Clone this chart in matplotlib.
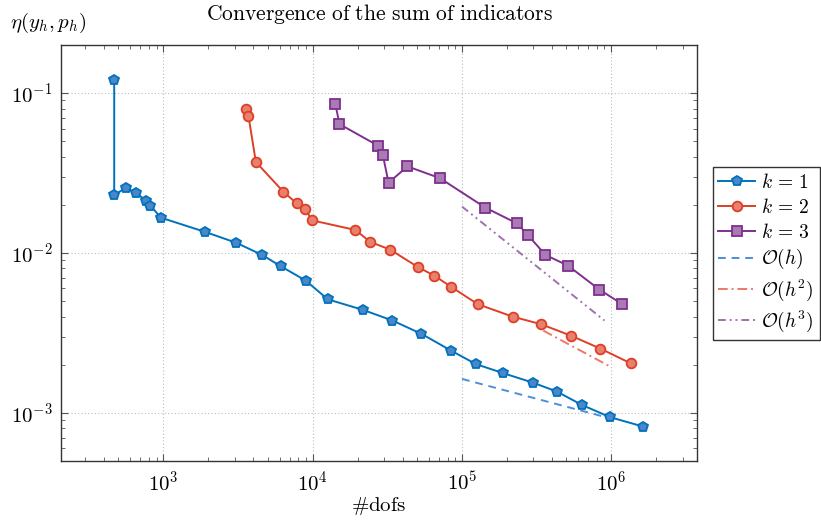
import matplotlib
matplotlib.use('Agg')
import matplotlib.pyplot as plt
from matplotlib.ticker import LogLocator, NullFormatter

plt.rcParams['mathtext.fontset'] = 'cm'
plt.rcParams['font.family'] = 'serif'
plt.rcParams['font.serif'] = ['cmr10', 'DejaVu Serif']
plt.rcParams['axes.formatter.use_mathtext'] = True

# k = 1
dofs_k1 = [468, 468, 560, 656, 770, 818, 961, 1910, 3070, 4580, 6140, 8990,
           12620, 21800, 34200, 53500, 84500, 123600, 189000, 298000, 431000,
           634000, 982000, 1640000]
eta_k1 = [0.121, 0.0230, 0.0256, 0.0238, 0.0211, 0.0198, 0.01663, 0.01353,
          0.01159, 0.00972, 0.00824, 0.00671, 0.00513, 0.00440, 0.00378,
          0.00312, 0.00245, 0.00202, 0.00177, 0.001546, 0.00136, 0.001122,
          0.000939, 0.00082]

# k = 2
dofs_k2 = [3560, 3710, 4160, 6370, 7830, 8900, 9910, 19300, 24300, 33000,
           51000, 65300, 84100, 127600, 218000, 340000, 541000, 846000, 1350000]
eta_k2 = [0.0794, 0.0721, 0.0371, 0.0241, 0.0204, 0.01883, 0.0160, 0.01393,
          0.01172, 0.0105, 0.00813, 0.00721, 0.00616, 0.00478, 0.0040,
          0.00358, 0.00303, 0.00252, 0.00204]

# k = 3
dofs_k3 = [14200, 15100, 27400, 29500, 32200, 43100, 71000, 143500, 234000,
           277000, 362000, 512000, 832000, 1186000]
eta_k3 = [0.0849, 0.0640, 0.0469, 0.0410, 0.0275, 0.0348, 0.0294, 0.0192,
          0.0153, 0.0129, 0.00972, 0.00834, 0.0059, 0.00478]

# reference slopes
ref1_x = [1e5, 1e6]
ref1_y = [1.63e-3, 9.2e-4]
ref2_x = [3.5e5, 9.8e5]
ref2_y = [3.27e-3, 1.95e-3]
ref3_x = [1e5, 9.0e5]
ref3_y = [1.95e-2, 3.78e-3]

blue, blue_f = '#0072BD', '#4A86C8'
red, red_f = '#DE3F26', '#E8806E'
purple, purple_f = '#7E2F8E', '#A87BB2'

fig = plt.figure(figsize=(8.21, 5.22), dpi=100)
ax = fig.add_axes([0.0743, 0.1169, 0.7747, 0.7969])

ax.plot(dofs_k1, eta_k1, '-', color=blue, lw=1.4, marker='p', ms=7.5,
        mfc=blue_f, mec=blue, mew=1.3, label=r'$k\,=\,1$')
ax.plot(dofs_k2, eta_k2, '-', color=red, lw=1.4, marker='o', ms=7,
        mfc=red_f, mec=red, mew=1.3, label=r'$k\,=\,2$')
ax.plot(dofs_k3, eta_k3, '-', color=purple, lw=1.4, marker='s', ms=6.5,
        mfc=purple_f, mec=purple, mew=1.3, label=r'$k\,=\,3$')
ax.plot(ref1_x, ref1_y, color='#4D8FD6', lw=1.4, ls=(0, (4, 3)),
        label=r'$\mathcal{O}(h)$')
ax.plot(ref2_x, ref2_y, color='#EE7766', lw=1.4, ls=(0, (5, 2, 1, 2)),
        label=r'$\mathcal{O}(h^2)$')
ax.plot(ref3_x, ref3_y, color='#A070B0', lw=1.4, ls=(0, (4, 2, 1, 2, 1, 2)),
        label=r'$\mathcal{O}(h^3)$')

ax.set_xscale('log')
ax.set_yscale('log')
ax.set_xlim(206, 3.75e6)
ax.set_ylim(5.0e-4, 0.2)

ax.xaxis.set_major_locator(LogLocator(base=10, numticks=10))
ax.yaxis.set_major_locator(LogLocator(base=10, numticks=10))
ax.xaxis.set_minor_locator(LogLocator(base=10, subs=range(2, 10), numticks=20))
ax.yaxis.set_minor_locator(LogLocator(base=10, subs=range(2, 10), numticks=20))
ax.xaxis.set_minor_formatter(NullFormatter())
ax.yaxis.set_minor_formatter(NullFormatter())

ax.tick_params(which='both', direction='in', top=True, right=True,
               color='#555555', labelsize=15)
ax.tick_params(which='major', length=5, width=0.8)
ax.tick_params(axis='x', which='major', pad=7)
ax.tick_params(axis='y', which='major', pad=6)
ax.tick_params(which='minor', length=3, width=0.6)
ax.grid(True, which='major', ls=(0, (1, 2)), color='#bbbbbb', lw=0.8)
for s in ax.spines.values():
    s.set_color('#333333')
    s.set_linewidth(1.0)

ax.set_xlabel(r'$\#\mathrm{dofs}$', fontsize=15, labelpad=0)
fig.text(0.4616, 0.973, r'$\mathrm{Convergence\ of\ the\ sum\ of\ indicators}$',
         fontsize=15.5, ha='center', va='center')
fig.text(0.012, 0.957, r'$\eta(y_h,p_h)$', fontsize=15, ha='left',
         va='center')

leg = ax.legend(loc='upper left', bbox_to_anchor=(0.868, 0.68),
                bbox_transform=fig.transFigure, fancybox=False,
                edgecolor='#333333', framealpha=1, fontsize=14,
                handlelength=1.9, handletextpad=0.3, labelspacing=0.3,
                borderpad=0.3, borderaxespad=0)
leg.get_frame().set_linewidth(1.0)

fig.savefig('out.png', dpi=100)
